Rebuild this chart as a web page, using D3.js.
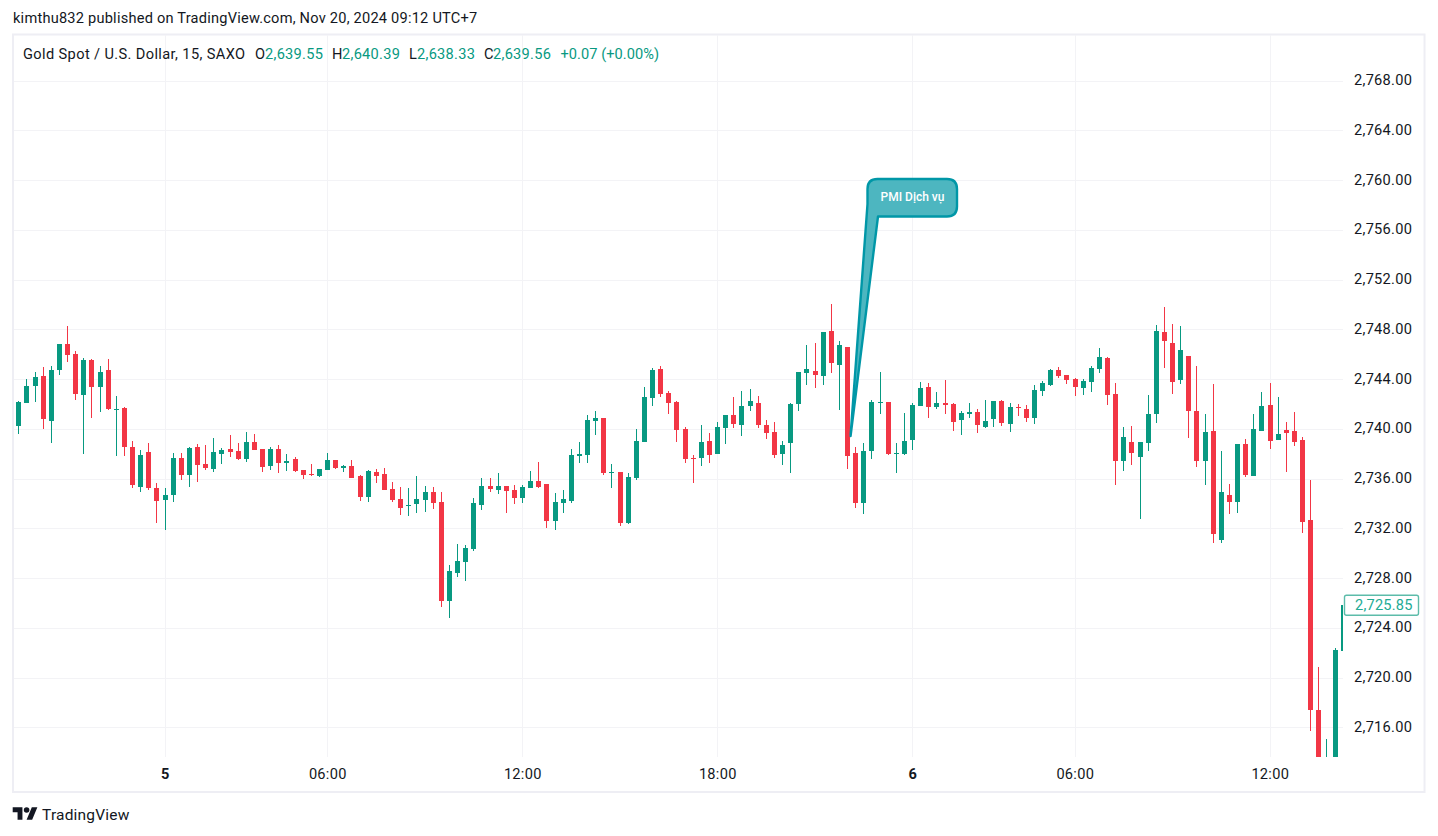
<!DOCTYPE html>
<html>
<head>
<meta charset="utf-8">
<title>Gold Spot / U.S. Dollar</title>
<script src="https://cdn.jsdelivr.net/npm/d3@7"></script>
<style>
  html, body { margin: 0; padding: 0; background: #fff; }
  svg { display: block; }
  text { font-family: Roboto, sans-serif; fill: #131722; }
</style>
</head>
<body>
<div id="chart"></div>
<script>
// 15 minute candles
const opens = [2740.22,2742.07,2743.44,2744.24,2740.63,2744.73,2746.82,2746.01,2742.72,2745.53,2743.36,2744.73,2741.51,2741.67,2738.54,2735.32,2738.13,2735.24,2734.27,2734.68,2737.65,2736.28,2738.54,2737.17,2736.77,2737.97,2738.37,2738.21,2737.57,2738.94,2738.37,2737.01,2738.37,2737.25,2737.57,2736.69,2736.36,2736.20,2736.69,2737.49,2736.85,
  2737.01,2736.21,2734.52,2736.53,2736.37,2735.16,2734.36,2733.80,2733.96,2734.28,2734.92,2734.12,2726.16,2728.41,2729.30,2730.34,2733.88,2735.41,2735.08,2735.41,2735.08,2734.44,2735.24,2735.81,2735.57,2732.59,2734.04,2734.20,2737.82,2737.90,2740.63,2740.87,2736.45,2736.53,2732.43,2736.05,2738.94,2742.48,2744.81,2742.88,2742.16,
  2739.99,2737.66,2737.66,2739.02,2737.98,2740.07,2741.11,2740.31,2741.84,2742.08,2740.31,2739.75,2737.98,2738.86,2742.00,2744.49,2744.65,2744.25,2747.87,2745.13,2746.58,2738.06,2734.04,2738.22,2742.08,2742.16,2737.98,2737.98,2739.10,2741.84,2743.36,2741.76,2742.08,2742.00,2740.71,2741.19,2741.36,2740.15,2740.79,2742.24,2740.39,2741.76,2741.60,
  2740.87,2743.04,2743.53,2744.73,2744.33,2744.01,2743.28,2743.77,2744.81,2745.70,2742.80,2737.42,2738.94,2737.74,2738.86,2741.19,2747.79,2746.90,2743.93,2745.86,2741.44,2737.42,2739.83,2731.06,2734.68,2734.12,2738.78,2736.21,2739.83,2741.92,2739.10,2739.91,2739.83,2739.10,2732.67,2717.39,2709.20,2712.60,2722.13];
const highs = [2742.23,2744.00,2744.57,2744.97,2745.05,2746.82,2748.26,2746.25,2745.69,2745.61,2745.05,2745.61,2742.64,2741.75,2739.02,2738.29,2738.86,2735.64,2735.24,2738.05,2738.05,2738.54,2738.78,2738.70,2739.26,2738.45,2739.50,2738.86,2739.74,2739.58,2738.37,2738.54,2738.70,2737.97,2737.73,2736.69,2737.17,2736.77,2738.05,2737.49,2737.09,
  2737.50,2736.29,2736.69,2736.77,2736.85,2735.73,2735.33,2735.24,2736.21,2735.41,2735.33,2734.92,2729.05,2730.74,2730.66,2734.44,2736.05,2736.05,2736.45,2735.41,2735.49,2735.49,2736.61,2737.34,2735.57,2734.84,2735.08,2738.38,2738.94,2741.11,2741.44,2740.87,2737.17,2736.53,2736.45,2739.99,2743.37,2744.89,2745.05,2743.04,2742.24,
  2740.15,2737.90,2740.31,2739.67,2740.55,2741.11,2742.56,2743.04,2743.20,2742.64,2740.71,2740.55,2739.02,2742.08,2744.57,2746.74,2746.90,2747.79,2750.04,2747.06,2746.58,2738.54,2738.86,2742.32,2744.57,2742.16,2738.86,2741.27,2742.08,2743.77,2743.69,2742.96,2743.93,2742.08,2741.44,2742.08,2741.60,2742.32,2742.24,2742.32,2742.08,2742.00,2741.92,
  2743.53,2743.85,2744.81,2744.97,2744.33,2744.09,2744.01,2745.05,2746.50,2745.78,2743.69,2740.15,2740.23,2738.94,2742.72,2748.35,2749.80,2748.43,2748.27,2745.86,2745.05,2741.19,2743.61,2738.22,2735.57,2738.78,2739.18,2741.19,2742.96,2743.69,2742.56,2740.55,2741.36,2739.35,2735.89,2720.85,2715.06,2722.38,2725.85];
const lows = [2739.58,2742.07,2742.15,2739.98,2738.86,2744.32,2745.37,2742.31,2737.97,2740.87,2741.35,2741.51,2737.81,2737.81,2735.24,2734.92,2735.08,2732.42,2731.86,2734.11,2735.88,2735.32,2735.72,2736.69,2736.53,2737.17,2737.73,2737.49,2737.33,2738.29,2736.53,2736.69,2736.44,2736.61,2736.53,2735.96,2736.20,2736.12,2736.69,2736.77,2736.53,
  2736.05,2734.20,2734.12,2735.65,2735.08,2734.12,2733.07,2732.99,2733.23,2733.32,2733.56,2725.68,2724.79,2728.09,2727.77,2730.18,2733.48,2734.92,2734.76,2733.23,2733.96,2734.04,2735.24,2735.24,2732.03,2731.87,2733.23,2734.04,2737.25,2737.25,2739.51,2736.29,2735.24,2732.19,2732.35,2735.89,2738.94,2741.84,2742.56,2741.19,2738.94,
  2737.25,2735.65,2737.01,2737.25,2737.98,2738.78,2740.07,2739.43,2741.44,2740.07,2739.18,2737.66,2737.09,2736.45,2741.44,2743.53,2743.28,2743.53,2744.49,2741.52,2736.77,2733.64,2733.15,2737.58,2741.19,2737.90,2736.45,2737.90,2738.30,2741.84,2740.87,2741.60,2741.19,2739.83,2739.51,2740.87,2739.67,2740.07,2740.15,2740.23,2739.75,2741.03,2740.55,
  2740.39,2742.64,2743.45,2744.09,2743.61,2742.64,2742.72,2742.96,2744.49,2741.92,2735.49,2736.61,2737.09,2732.75,2738.22,2740.47,2744.89,2742.80,2743.61,2739.26,2736.93,2735.49,2730.82,2730.82,2733.15,2733.23,2736.13,2736.21,2739.83,2738.38,2739.10,2736.53,2738.62,2731.63,2715.71,2710.90,2708.50,2712.20,2722.00];
const closes = [2742.15,2743.44,2744.16,2740.79,2744.73,2746.82,2745.93,2742.80,2745.53,2743.36,2744.57,2741.59,2741.59,2738.54,2735.48,2737.89,2735.24,2734.19,2734.68,2737.65,2736.28,2738.45,2737.09,2736.85,2738.13,2738.29,2738.13,2737.57,2738.94,2738.29,2736.93,2738.37,2737.25,2737.41,2736.61,2736.28,2736.28,2736.77,2737.49,2736.85,2737.01,
  2736.05,2734.52,2736.61,2736.21,2735.08,2734.28,2733.64,2733.88,2734.36,2734.92,2734.04,2726.16,2728.57,2729.38,2730.42,2734.04,2735.41,2735.16,2735.41,2735.00,2734.44,2735.33,2735.81,2735.33,2732.59,2734.12,2734.36,2737.90,2737.98,2740.71,2740.87,2736.45,2736.53,2732.43,2736.13,2739.02,2742.56,2744.73,2742.80,2742.08,2739.91,
  2737.58,2737.58,2738.94,2737.90,2740.15,2741.11,2740.39,2741.84,2742.24,2740.31,2739.67,2737.90,2738.70,2742.00,2744.57,2744.81,2744.33,2747.79,2745.29,2746.74,2737.82,2734.04,2738.22,2742.16,2742.16,2737.98,2738.06,2739.02,2741.92,2743.28,2741.76,2742.08,2741.92,2740.55,2741.27,2741.36,2740.31,2740.63,2742.24,2740.47,2741.76,2741.68,2740.87,
  2743.12,2743.69,2744.73,2744.25,2743.93,2743.36,2743.85,2744.89,2745.78,2742.72,2737.42,2739.35,2738.06,2738.94,2741.19,2747.87,2747.06,2743.77,2746.34,2741.44,2737.42,2739.75,2731.55,2734.92,2734.12,2738.78,2736.29,2739.99,2741.84,2739.02,2739.59,2739.67,2738.94,2732.51,2717.39,2711.60,2712.80,2722.22,2725.85];

const priceTicks = [2716,2720,2724,2728,2732,2736,2740,2744,2748,2752,2756,2760,2764,2768];
const timeTickBars = [18,38,62,86,110,130,154];
const timeTickLabels = ['5','06:00','12:00','18:00','6','06:00','12:00'];
const lastPrice = 2725.85;
const publishLine = 'kimthu832 published on TradingView.com, Nov 20, 2024 09:12 UTC+7';
const symbolLine = 'Gold Spot / U.S. Dollar, 15, SAXO';
const ohlcLetters = ['O','H','L','C'];
const ohlcValues = ['2,639.55','2,640.39','2,638.33','2,639.56'];
const changeText = '+0.07 (+0.00%)';
const calloutText = 'PMI Dịch vụ';

const width = 1438, height = 836;
const plot = { left: 14, right: 1343, top: 35, bottom: 757 };
const frame = { left: 13, right: 1424.5, top: 34.5, bottom: 792 };
const up = '#089981', down = '#f23645', gridColor = '#f3f3f6', frameColor = '#eeeef4';
const font = 14.6, spacing = 0.28;

const svg = d3.select('#chart').append('svg')
  .attr('width', width)
  .attr('height', height);

const x = d3.scaleLinear().domain([0, 154]).range([18.8, 1270.05]);
const y = d3.scaleLinear().domain([2748, 2716]).range([329.3, 727.3]);
// candles sit on whole pixels, same as the original chart
const px = i => Math.floor(x(i));

svg.append('defs').append('clipPath').attr('id', 'plot-clip')
  .append('rect')
  .attr('x', plot.left).attr('y', plot.top)
  .attr('width', plot.right - plot.left)
  .attr('height', plot.bottom - plot.top);

// frame
svg.append('rect')
  .attr('x', frame.left).attr('y', frame.top)
  .attr('width', frame.right - frame.left)
  .attr('height', frame.bottom - frame.top)
  .attr('fill', 'none')
  .attr('stroke', frameColor)
  .attr('stroke-width', 2);

const plotG = svg.append('g').attr('clip-path', 'url(#plot-clip)');

// grid
const grid = plotG.append('g').attr('shape-rendering', 'crispEdges');
grid.selectAll('.h').data(priceTicks).join('line')
  .attr('x1', plot.left).attr('x2', plot.right)
  .attr('y1', d => Math.round(y(d)) + 0.5).attr('y2', d => Math.round(y(d)) + 0.5)
  .attr('stroke', gridColor);
grid.selectAll('.v').data(timeTickBars).join('line')
  .attr('x1', d => px(d) + 0.5).attr('x2', d => px(d) + 0.5)
  .attr('y1', plot.top).attr('y2', plot.bottom)
  .attr('stroke', gridColor);

// candles
const candles = d3.range(opens.length);
const color = i => closes[i] >= opens[i] ? up : down;
const candleG = plotG.append('g').attr('shape-rendering', 'crispEdges');
candleG.selectAll('.wick').data(candles).join('rect')
  .attr('x', px)
  .attr('width', 1)
  .attr('y', i => y(highs[i]))
  .attr('height', i => y(lows[i]) - y(highs[i]))
  .attr('fill', color);
candleG.selectAll('.body').data(candles).join('rect')
  .attr('x', i => px(i) - 2)
  .attr('width', 5)
  .attr('y', i => y(Math.max(opens[i], closes[i])))
  .attr('height', i => Math.max(1, Math.abs(y(opens[i]) - y(closes[i]))))
  .attr('fill', color);

// callout, tail points at the drop after the PMI release
const tip = [x(102) + 3, y(2739.42)];
const box = { l: 867.5, r: 957, t: 179, b: 216.5, r0: 10 };
svg.append('path')
  .attr('d', `M878 ${box.b} L${tip[0]} ${tip[1]} L${box.l} 204 L${box.l} ${box.t + box.r0}
    Q${box.l} ${box.t} ${box.l + box.r0} ${box.t} L${box.r - box.r0} ${box.t}
    Q${box.r} ${box.t} ${box.r} ${box.t + box.r0} L${box.r} ${box.b - box.r0}
    Q${box.r} ${box.b} ${box.r - box.r0} ${box.b} Z`)
  .attr('fill', '#4db6c0')
  .attr('stroke', '#0097a7')
  .attr('stroke-width', 2.4)
  .attr('stroke-linejoin', 'round');
svg.append('text')
  .attr('x', 912.5).attr('y', 201)
  .attr('text-anchor', 'middle')
  .attr('font-size', 12)
  .attr('font-weight', 500)
  .style('fill', '#fff')
  .text(calloutText);

// price axis
const priceAxis = d3.axisRight(y)
  .tickValues(priceTicks)
  .tickFormat(d3.format(',.2f'))
  .tickSize(0)
  .tickPadding(0);
const priceG = svg.append('g').attr('transform', 'translate(1354,0)').call(priceAxis);
priceG.select('.domain').remove();
priceG.selectAll('text')
  .attr('font-size', font)
  .attr('letter-spacing', spacing)
  .attr('dy', '0.27em');

// time axis
const timeAxis = d3.axisBottom(d3.scaleLinear().domain(x.domain()).range(x.range().map(v => v - 0.3)))
  .tickValues(timeTickBars)
  .tickFormat((d, i) => timeTickLabels[i])
  .tickSize(0)
  .tickPadding(0);
const timeG = svg.append('g').attr('transform', 'translate(0,769)').call(timeAxis);
timeG.select('.domain').remove();
timeG.selectAll('text')
  .attr('font-size', font)
  .attr('letter-spacing', spacing)
  .attr('font-weight', (d, i) => /:/.test(timeTickLabels[i]) ? 400 : 700);

// last price tag
svg.append('rect')
  .attr('x', 1344.5).attr('y', y(lastPrice) - 9.5)
  .attr('width', 74).attr('height', 20)
  .attr('rx', 2)
  .attr('fill', '#fff')
  .attr('stroke', '#5dbcaa')
  .attr('stroke-width', 1.4);
svg.append('text')
  .attr('x', 1355).attr('y', y(lastPrice) + 5.5)
  .attr('font-size', font)
  .attr('letter-spacing', 0.2)
  .style('fill', '#22ab94')
  .text(d3.format(',.2f')(lastPrice));

// header lines
svg.append('text')
  .attr('x', 13).attr('y', 23)
  .attr('font-size', font)
  .attr('letter-spacing', 0.22)
  .text(publishLine);
svg.append('text')
  .attr('x', 23).attr('y', 59)
  .attr('font-size', font)
  .attr('letter-spacing', 0.38)
  .text(symbolLine);

const letterX = [255, 332, 409, 484];
const valueX = [265, 342, 417, 493];
ohlcLetters.forEach((d, i) => {
  svg.append('text')
    .attr('x', letterX[i]).attr('y', 59)
    .attr('font-size', font)
    .text(d);
  svg.append('text')
    .attr('x', valueX[i]).attr('y', 59)
    .attr('font-size', font)
    .attr('letter-spacing', spacing)
    .style('fill', '#089981')
    .text(ohlcValues[i]);
});
svg.append('text')
  .attr('x', 560.5).attr('y', 59)
  .attr('font-size', font)
  .attr('letter-spacing', 0.05)
  .style('fill', '#089981')
  .text(changeText);

// logo
const logo = svg.append('g').attr('transform', 'translate(12.7,804.5) scale(0.695)');
logo.append('path').attr('d', 'M14 22H7V11H0V4h14v18zM28 22h-8l7.5-18h8L28 22z').attr('fill', '#131722');
logo.append('circle').attr('cx', 20).attr('cy', 8).attr('r', 4).attr('fill', '#131722');
svg.append('text')
  .attr('x', 42).attr('y', 820)
  .attr('font-size', 15.5)
  .attr('letter-spacing', 0.2)
  .text('TradingView');
</script>
</body>
</html>
